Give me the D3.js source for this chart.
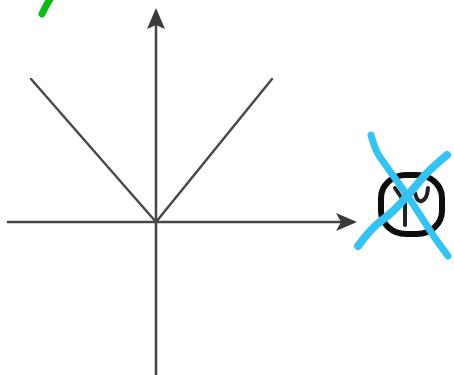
<!DOCTYPE html>
<html>
<head>
<meta charset="utf-8">
<script src="https://cdn.jsdelivr.net/npm/d3@7/dist/d3.min.js"></script>
<style>html,body{margin:0;padding:0;background:#fff;overflow:hidden}svg{display:block}</style>
</head>
<body>
<script>
// All values are in sketch units: origin at the crossing of the axes.
const xAxisEnds = [[-148, 0], [184, 0]];
const yAxisEnds = [[0, -153], [0, 196]];
const xArrowHead = [[201, 0], [180, 9], [185, 0], [180, -9]];
const yArrowHead = [[0, 214], [-9, 193], [0, 197], [9, 193]];
const vCurve = [[-125, 143], [0, 0], [116, 143]];
const greenStroke = [[-114, 208], [-110, 216], [-104, 226]];
const blueStrokeA = [[215, 87], [221, 70], [231, 55], [251, 27], [266, 4], [279, -16], [292, -34]];
const blueStrokeB = [[202, -24], [217, -6], [236, 10], [252, 27], [272, 50], [291, 67]];
const iconBox = [[225, 47], [286, -12]];
const iconFork = [[239, 34], [249, 19], [249, -3]];
const iconCup = [[259, 29], [262, 22], [266, 21], [270, 25], [272, 34]];

const width = 454, height = 375;
const x = d3.scaleLinear().domain([-156, 298]).range([0, width]);
const y = d3.scaleLinear().domain([-153, 222]).range([height, 0]);

const svg = d3.select("body").append("svg").attr("width", width).attr("height", height);
svg.append("defs").append("filter").attr("id", "soft")
  .append("feGaussianBlur").attr("stdDeviation", 0.5);
const g = svg.append("g").attr("filter", "url(#soft)");

const straight = d3.line().x(d => x(d[0])).y(d => y(d[1]));
const smooth = d3.line().x(d => x(d[0])).y(d => y(d[1])).curve(d3.curveCatmullRom);

function stroke(points, gen, color, w) {
  g.append("path").attr("d", gen(points)).attr("fill", "none")
    .attr("stroke", color).attr("stroke-width", w)
    .attr("stroke-linecap", "round").attr("stroke-linejoin", "round");
}

stroke(xAxisEnds, straight, "#444", 2.5);
stroke(yAxisEnds, straight, "#444", 2.5);
stroke(vCurve, straight, "#4a4a4a", 2.5);

[xArrowHead, yArrowHead].forEach(h => {
  g.append("path").attr("d", straight(h) + "Z").attr("fill", "#3a3a3a");
});

// Icon under the crossing
g.append("rect")
  .attr("x", x(iconBox[0][0])).attr("y", y(iconBox[0][1]))
  .attr("width", x(iconBox[1][0]) - x(iconBox[0][0]))
  .attr("height", y(iconBox[1][1]) - y(iconBox[0][1]))
  .attr("rx", 25).attr("ry", 23)
  .attr("fill", "none").attr("stroke", "#111").attr("stroke-width", 6);
stroke(iconFork, straight, "#222", 4);
stroke(iconCup, smooth, "#222", 4);

stroke(greenStroke, smooth, "#0cbb14", 7);
stroke(blueStrokeA, smooth, "#35c3f3", 7);
stroke(blueStrokeB, smooth, "#35c3f3", 8);
</script>
</body>
</html>
